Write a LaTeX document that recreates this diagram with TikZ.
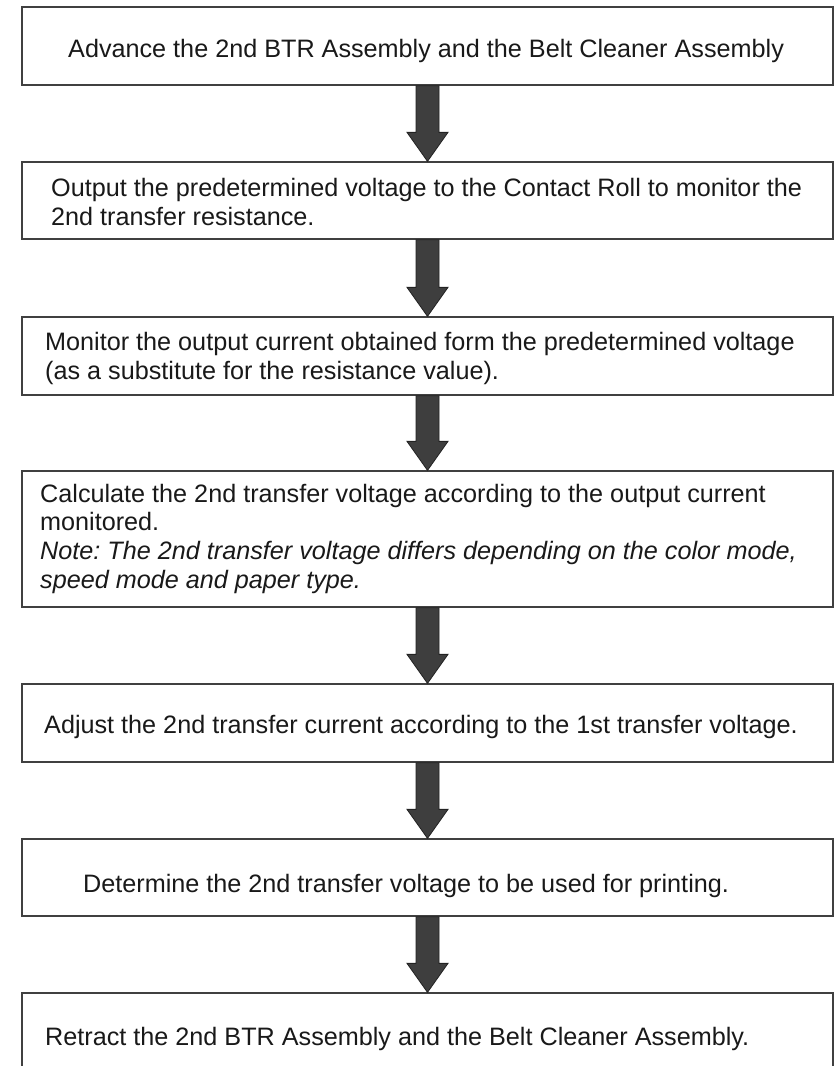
\documentclass[tikz,border=0pt]{standalone}
\usepackage{fontspec}
\setmainfont{Liberation Sans}
\usetikzlibrary{calc}
\definecolor{boxline}{RGB}{64,64,64}
\definecolor{arrowfill}{RGB}{62,62,62}
\definecolor{arrowline}{RGB}{34,34,34}
\frenchspacing

\begin{document}
\begin{tikzpicture}[
    x=1pt,y=-1pt,
    line join=miter,
    stepbox/.style={
        draw=boxline,
        line width=1.3pt,
        fill=white,
        rectangle,
        minimum width=811pt,
        inner sep=0pt
    },
    steptext/.style={
        font=\fontsize{25.2}{28.6}\selectfont,
        align=left,
        inner sep=0pt,
        anchor=base west,
        text=black!90
    },
    blockarrow/.style={
        fill=arrowfill,
        draw=arrowline,
        line width=0.8pt
    }
]

% page area, the last box runs off the bottom edge
\useasboundingbox (0,0) rectangle (835,1066);
\fill[white] (0,0) rectangle (835,1066);
\clip (0,0) rectangle (835,1066);

% ============================================================
% thick down arrow from one box to the next
% ============================================================

\newcommand{\StepArrow}[2]{%
    \draw[blockarrow]
        ($(#1.south)+(-11.5,0)$) -- ($(#1.south)+(11.5,0)$)
        -- ($(#2.north)+(11.5,-29)$) -- ($(#2.north)+(20.5,-29)$)
        -- (#2.north)
        -- ($(#2.north)+(-20.5,-29)$) -- ($(#2.north)+(-11.5,-29)$)
        -- cycle;
}

% ============================================================
% boxes
% ============================================================

\node[stepbox,minimum height=78pt] (s1) at (427.5,46) {};
\node[stepbox,minimum height=77pt] (s2) at (427.5,200.5) {};
\node[stepbox,minimum height=78pt] (s3) at (427.5,356) {};
\node[stepbox,minimum height=136pt] (s4) at (427.5,539) {};
\node[stepbox,minimum height=78pt] (s5) at (427.5,723) {};
\node[stepbox,minimum height=77pt] (s6) at (427.5,877.5) {};
\node[stepbox,minimum height=78pt] (s7) at (427.5,1032) {};

% ============================================================
% texts (base = baseline of the last line)
% ============================================================

\node[steptext] (t1) at (68,57)
    {Advance the 2nd BTR Assembly and the Belt Cleaner Assembly};

\node[steptext] (t2) at (51,225)
    {Output the predetermined voltage to the Contact Roll to monitor the\\
     2nd transfer resistance.};

\node[steptext] (t3) at (45,379)
    {Monitor the output current obtained form the predetermined voltage\\
     (as a substitute for the resistance value).};

\node[steptext] (t4) at (40,588)
    {Calculate the 2nd transfer voltage according to the output current\\
     monitored.\\
     \textit{Note: The 2nd transfer voltage differs depending on the color mode,}\\
     \textit{speed mode and paper type.}};

\node[steptext] (t5) at (44,733)
    {Adjust the 2nd transfer current according to the 1st transfer voltage.};

\node[steptext] (t6) at (83,892)
    {Determine the 2nd transfer voltage to be used for printing.};

\node[steptext] (t7) at (45,1045)
    {Retract the 2nd BTR Assembly and the Belt Cleaner Assembly.};

% ============================================================
% arrows
% ============================================================

\StepArrow{s1}{s2}
\StepArrow{s2}{s3}
\StepArrow{s3}{s4}
\StepArrow{s4}{s5}
\StepArrow{s5}{s6}
\StepArrow{s6}{s7}

\end{tikzpicture}
\end{document}
